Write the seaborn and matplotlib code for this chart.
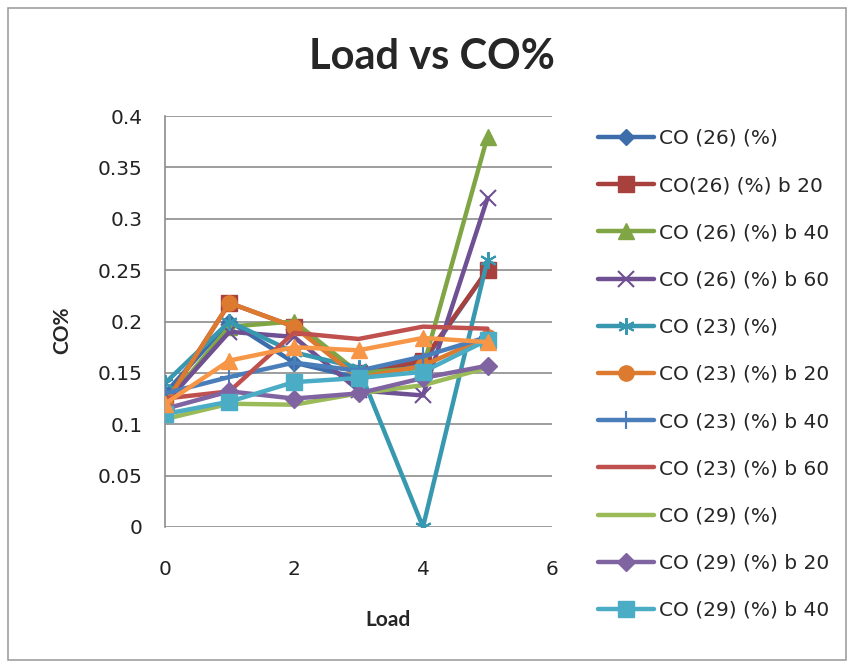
import matplotlib
matplotlib.use("Agg")
import matplotlib.pyplot as plt
import seaborn as sns
import pandas as pd
from matplotlib.patches import Rectangle

load = [0, 1, 2, 3, 4, 5]

co26 = [0.130, 0.200, 0.160, 0.145, 0.160, 0.250]
co26_b20 = [0.120, 0.218, 0.195, 0.150, 0.162, 0.250]
co26_b40 = [0.120, 0.195, 0.200, 0.150, 0.155, 0.380]
co26_b60 = [0.120, 0.190, 0.185, 0.133, 0.128, 0.320]
co23 = [0.140, 0.200, 0.170, 0.155, 0.000, 0.260]
co23_b20 = [0.120, 0.218, 0.195, 0.145, 0.157, 0.185]
co23_b40 = [0.130, 0.146, 0.160, 0.152, 0.166, 0.185]
co23_b60 = [0.125, 0.132, 0.189, 0.183, 0.195, 0.193]
co29 = [0.105, 0.120, 0.119, 0.130, 0.138, 0.155]
co29_b20 = [0.115, 0.132, 0.125, 0.130, 0.145, 0.157]
co29_b40 = [0.110, 0.122, 0.141, 0.145, 0.151, 0.182]
co29_b60 = [0.120, 0.162, 0.175, 0.172, 0.184, 0.180]

labels = ["CO (26) (%)", "CO(26) (%) b 20", "CO (26) (%) b 40", "CO (26) (%) b 60",
          "CO (23) (%)", "CO (23) (%) b 20", "CO (23) (%) b 40", "CO (23) (%) b 60",
          "CO (29) (%)", "CO (29) (%) b 20", "CO (29) (%) b 40", "CO (29) (%) b 60"]
series = [co26, co26_b20, co26_b40, co26_b60, co23, co23_b20, co23_b40, co23_b60,
          co29, co29_b20, co29_b40, co29_b60]

colors = ["#3E6DAB", "#A8403D", "#80A545", "#6E5093", "#3798B0", "#DC7A30",
          "#4A7EBB", "#C0504D", "#9BBB59", "#8064A2", "#4BACC6", "#F79646"]
markers = ["D", "s", "^", "x", (6, 2, 0), "o", "+", None, None, "D", "s", "^"]
msizes = [8, 11, 11, 12, 12, 11, 13, 0, 0, 9, 12, 11]

rows = []
for lab, vals in zip(labels, series):
    for x, v in zip(load, vals):
        rows.append({"Load": x, "CO%": v, "series": lab})
df = pd.DataFrame(rows)

sns.set_style("white")
plt.rcParams["font.family"] = ["DejaVu Sans"]

fig = plt.figure(figsize=(8.54, 6.65), dpi=100)
ax = fig.add_axes([165 / 854, 1 - 527 / 665, (552 - 165) / 854, (527 - 116) / 665])

for i, lab in enumerate(labels):
    sub = df[df["series"] == lab]
    kw = {}
    if markers[i] is not None:
        kw = dict(marker=markers[i], markersize=msizes[i],
                  markerfacecolor=colors[i], markeredgecolor=colors[i],
                  markeredgewidth=1.5 if markers[i] in ("x", "+", (6, 2, 0)) else 1)
    sns.lineplot(data=sub, x="Load", y="CO%", ax=ax, color=colors[i], linewidth=3.2,
                 label=lab if i < 11 else "_nolegend_", legend=False, zorder=3 + i, **kw)

ax.set_xlim(0, 6)
ax.set_ylim(0, 0.4)
ax.set_xticks([0, 2, 4, 6])
ax.set_yticks([0, 0.05, 0.1, 0.15, 0.2, 0.25, 0.3, 0.35, 0.4])
ax.set_yticklabels(["0", "0.05", "0.1", "0.15", "0.2", "0.25", "0.3", "0.35", "0.4"])
ax.yaxis.grid(True, color="#8C8C8C", linewidth=1.2)
ax.xaxis.grid(False)
for s in ["top", "right", "bottom"]:
    ax.spines[s].set_visible(False)
ax.spines["left"].set_color("#8C8C8C")
ax.spines["left"].set_linewidth(1.2)
ax.tick_params(axis="both", labelsize=14.5, length=0, labelcolor="#222222")
ax.tick_params(axis="x", pad=24)
ax.tick_params(axis="y", pad=16)
ax.set_xlabel("")
ax.set_ylabel("")

fig.text(388 / 854, 1 - 620 / 665, "Load", ha="center", va="center",
         fontsize=15, fontweight="bold", family=["Lato", "DejaVu Sans"])
fig.text(62 / 854, 1 - 330 / 665, "CO%", ha="center", va="center", rotation=90,
         fontsize=15, fontweight="bold", family=["Lato", "DejaVu Sans"])
fig.text(432 / 854, 1 - 57 / 665, "Load vs CO%", ha="center", va="center",
         fontsize=30, fontweight="bold", family=["Lato", "DejaVu Sans"])

handles, labs = ax.get_legend_handles_labels()
fig.legend(handles, labs, loc="upper left", bbox_to_anchor=(598 / 854, 1 - 129 / 665),
           frameon=False, prop={"family": "DejaVu Sans", "size": 14.5},
           handlelength=2.8, labelspacing=1.4, handletextpad=0.25, borderaxespad=0,
           borderpad=0)

fig.patches.append(Rectangle((8 / 854, 5 / 665), 838 / 854, 652 / 665, transform=fig.transFigure,
                             fill=False, edgecolor="#A0A0A0", linewidth=1.2))

fig.savefig("out.png", dpi=100)
